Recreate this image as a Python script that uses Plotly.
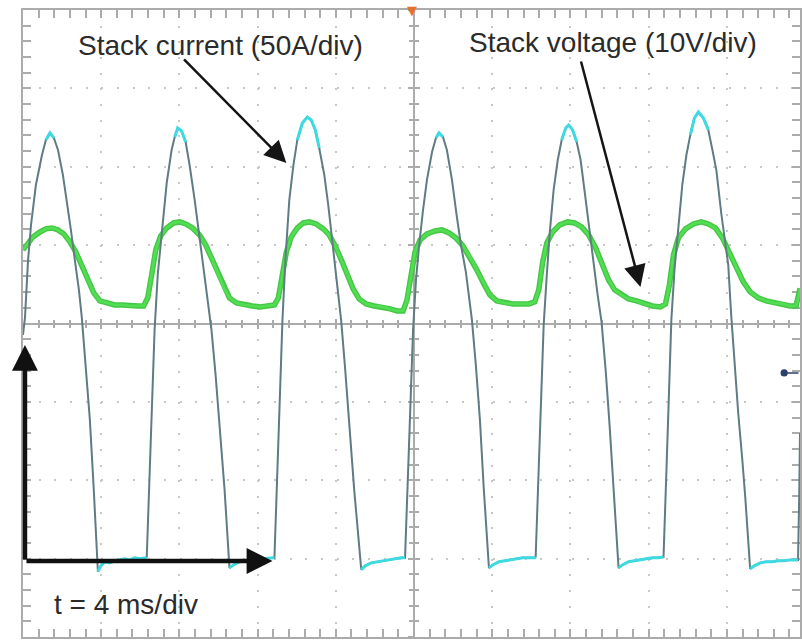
import numpy as np
import plotly.graph_objects as go

# ---- Data ----
# time in ms (0 = left edge of screen, 4 ms/div)
t_current = [0.00, 0.10, 0.26, 0.41, 0.66, 0.97, 1.17, 1.38, 1.58, 1.79, 2.04, 2.24, 2.45, 2.65, 2.86,
             3.01, 3.21, 3.42, 3.62, 3.83, 3.98, 4.18, 4.44, 4.69, 4.95, 5.20, 5.46, 5.71, 5.97, 6.28,
             6.33, 6.48, 6.63, 6.73, 6.89, 7.09, 7.35, 7.60, 7.76, 7.91, 8.11, 8.32, 8.52, 8.78, 8.98,
             9.18, 9.44, 9.64, 9.85, 10.05, 10.31, 10.56, 10.77, 11.07, 11.38, 11.68, 11.99, 12.30, 12.60, 12.80,
             12.86, 13.01, 13.16, 13.27, 13.42, 13.62, 13.83, 14.03, 14.29, 14.54, 14.74, 14.95, 15.15, 15.41, 15.61,
             15.82, 16.02, 16.28, 16.48, 16.68, 16.94, 17.30, 17.50, 17.81, 18.11, 18.42, 18.72, 19.03, 19.34, 19.54,
             19.69, 19.85, 19.95, 20.10, 20.26, 20.46, 20.66, 20.92, 21.12, 21.28, 21.48, 21.68, 21.94, 22.19, 22.40,
             22.65, 22.96, 23.16, 23.37, 23.57, 23.83, 24.03, 24.34, 24.64, 24.95, 25.26, 25.56, 25.87, 26.17,
             26.22, 26.38, 26.53, 26.63, 26.79, 26.94, 27.14, 27.35, 27.55, 27.76, 27.91, 28.11, 28.32, 28.52, 28.78,
             28.98, 29.18, 29.39, 29.59, 29.80, 30.00, 30.20, 30.46, 30.66, 30.97, 31.28, 31.58, 31.89, 32.19, 32.50,
             32.76, 32.91, 33.06, 33.16, 33.32, 33.52, 33.72, 33.93, 34.13, 34.34, 34.54, 34.80, 35.05, 35.26, 35.46,
             35.71, 35.92, 36.07, 36.22, 36.38, 36.58, 36.79, 36.94, 37.19, 37.40, 37.70, 38.01, 38.32, 38.62, 38.93,
             39.23, 39.54, 39.64, 39.70, 39.74]
# stack current in A (50 A/div, zero 3 div below centre)
i_current = [142.7, 153.6, 190.6, 212.9, 238.4, 257.5, 267.1, 271.6, 268.4, 260.7, 244.8, 228.8, 209.7, 190.6, 171.4,
             153.6, 123.6, 88.5, 43.9, -8.2, -4.6, -2.0, -2.7, -1.4, -0.8, -0.1, -0.8, 0.5, -0.1, 0.5,
             1.1, 56.6, 107.7, 145.9, 181.0, 207.8, 239.7, 260.7, 269.0, 274.7, 272.8, 265.8, 251.1, 228.8, 209.7,
             190.6, 165.1, 145.9, 117.2, 85.3, 43.9, -5.9, -4.0, -2.0, -1.4, -0.8, -0.1, -0.1, 0.5, 0.5,
             0.5, 56.6, 114.0, 152.3, 190.6, 228.8, 251.1, 267.1, 277.9, 281.7, 279.8, 273.5, 262.0, 244.8, 225.8,
             203.3, 181.0, 151.0, 120.4, 88.5, 43.9, -7.0, -4.6, -2.7, -2.0, -1.4, -0.8, -0.1, 0.5, 0.5,
             56.6, 110.8, 145.9, 177.8, 200.1, 222.4, 241.6, 259.4, 268.4, 271.6, 269.0, 260.7, 241.6, 218.0, 200.1,
             182.9, 152.3, 123.6, 88.5, 43.9, -5.9, -4.0, -2.0, -1.4, -0.8, -0.1, 0.5, 0.5, 0.5,
             1.1, 56.6, 110.8, 149.1, 181.0, 207.8, 235.2, 254.3, 267.1, 274.7, 276.6, 273.5, 265.8, 254.3, 228.8,
             207.8, 187.4, 168.2, 151.0, 120.4, 85.3, 43.9, -5.9, -4.0, -2.0, -1.4, -0.8, -0.1, 0.5, 0.5,
             1.1, 56.6, 114.0, 152.3, 184.2, 209.7, 238.4, 257.5, 270.3, 281.1, 284.9, 281.1, 273.5, 260.7, 248.0,
             220.5, 200.1, 187.4, 155.5, 126.8, 92.9, 62.9, 39.3, -6.5, -4.6, -2.7, -2.0, -2.0, -1.4, -1.4,
             -0.8, -0.8, -0.8, 40.0, 80.0]

t_voltage = [0.00, 0.20, 0.51, 0.87, 1.17, 1.48, 1.79, 2.09, 2.40, 2.70, 3.01, 3.32, 3.62, 3.93, 4.29,
             4.69, 5.10, 5.51, 5.87, 6.17, 6.38, 6.58, 6.79, 7.04, 7.35, 7.70, 8.01, 8.32, 8.67, 9.03,
             9.34, 9.64, 9.95, 10.26, 10.56, 10.92, 11.33, 11.73, 12.14, 12.50, 12.86, 13.06, 13.27, 13.47, 13.72,
             14.03, 14.34, 14.64, 15.00, 15.36, 15.66, 15.97, 16.28, 16.58, 16.89, 17.19, 17.55, 17.96, 18.37, 18.78,
             19.13, 19.44, 19.64, 19.85, 20.05, 20.31, 20.66, 21.07, 21.43, 21.79, 22.14, 22.50, 22.86, 23.21, 23.57,
             23.88, 24.23, 24.64, 25.05, 25.46, 25.87, 26.17, 26.38, 26.58, 26.79, 27.09, 27.45, 27.86, 28.21, 28.57,
             28.93, 29.29, 29.64, 29.95, 30.26, 30.61, 30.97, 31.38, 31.79, 32.19, 32.60, 32.86, 33.06, 33.27, 33.52,
             33.88, 34.29, 34.69, 35.05, 35.41, 35.77, 36.12, 36.48, 36.84, 37.19, 37.60, 38.01, 38.42, 38.83, 39.23,
             39.54, 39.69, 39.74]
# stack voltage in V (10 V/div, referenced to the centre line)
v_voltage = [9.39, 10.03, 11.05, 11.68, 12.07, 12.19, 11.94, 11.43, 10.41, 9.13, 7.47, 5.56, 3.90, 2.88, 2.63,
             2.37, 2.37, 2.24, 2.24, 2.24, 3.27, 6.20, 9.39, 11.17, 12.19, 12.83, 12.96, 12.70, 12.19, 11.30,
             10.03, 8.37, 6.58, 4.67, 3.27, 2.63, 2.37, 2.24, 2.12, 2.24, 2.37, 3.27, 6.20, 9.13, 11.05,
             12.19, 12.83, 12.96, 12.70, 12.07, 11.30, 9.90, 8.11, 6.20, 4.41, 3.14, 2.50, 2.24, 2.12, 1.86,
             1.61, 1.61, 3.01, 6.20, 9.13, 10.66, 11.43, 11.81, 11.94, 11.56, 10.92, 9.90, 8.49, 6.84, 5.05,
             3.65, 2.88, 2.63, 2.50, 2.50, 2.50, 2.76, 4.29, 7.86, 10.28, 11.68, 12.58, 12.96, 12.83, 12.32,
             11.30, 9.64, 7.47, 5.56, 4.29, 3.65, 3.14, 2.88, 2.50, 2.24, 2.12, 2.50, 4.92, 8.75, 10.92,
             12.07, 12.70, 12.96, 12.70, 12.19, 10.92, 9.13, 7.09, 5.31, 4.03, 3.27, 2.88, 2.63, 2.50, 2.24,
             2.24, 3.65, 4.5]

# screen scales
T_END = 39.74            # visible time span (ms), screen is cropped slightly at the right
MS_PER_DIV = 4
A_RANGE = [-50, 350]     # 50 A/div
V_RANGE = [-40, 40]      # 10 V/div

labels = {
    "current": "Stack current (50A/div)",
    "voltage": "Stack voltage (10V/div)",
    "time": "t = 4 ms/div",
}

GRID = "#c8c8c8"
FRAME = "#ababab"
FONT = "Liberation Sans, Arial, sans-serif"
TXT = "#2b2b2b"

tc = np.array(t_current)
ic = np.array(i_current, dtype=float)
ic_hi = np.where((ic >= 262) | (ic <= 2.0), ic, np.nan)

fig = go.Figure()

# dummy traces to activate the centre-line axes
for xa, ya in [("x2", "y"), ("x3", "y"), ("x", "y3"), ("x", "y4")]:
    fig.add_trace(go.Scatter(x=[None], y=[None], xaxis=xa, yaxis=ya,
                             showlegend=False, hoverinfo="skip"))

# voltage (green, thick and noisy)
fig.add_trace(go.Scatter(x=t_voltage, y=v_voltage, mode="lines",
                         line=dict(color="#45c645", width=5.5), hoverinfo="skip"))
fig.add_trace(go.Scatter(x=t_voltage, y=v_voltage, mode="lines",
                         line=dict(color="#52de52", width=2.8), hoverinfo="skip"))

# current (grey-teal slopes, cyan at the flats and peaks)
fig.add_trace(go.Scatter(x=tc, y=ic, mode="lines", yaxis="y2",
                         line=dict(color="#5e7c82", width=2), hoverinfo="skip"))
fig.add_trace(go.Scatter(x=tc, y=ic_hi, mode="lines", yaxis="y2",
                         line=dict(color="#3fd9e2", width=3), hoverinfo="skip",
                         connectgaps=False))

tick_common = dict(tickcolor=FRAME, tickwidth=1.5, showticklabels=False, zeroline=False,
                   layer="below traces", fixedrange=True)

xaxis = dict(range=[0, T_END], tick0=0, dtick=MS_PER_DIV, showgrid=True, gridcolor=GRID, gridwidth=2,
             griddash="2px,13.68px", showline=True, mirror="allticks", linecolor=FRAME, linewidth=2,
             ticks="inside", ticklen=8,
             minor=dict(dtick=MS_PER_DIV / 5, ticks="inside", ticklen=5, tickwidth=1.5,
                        tickcolor=FRAME, showgrid=False),
             **tick_common)
yaxis = dict(range=V_RANGE, tick0=0, dtick=10, showgrid=True, gridcolor=GRID, gridwidth=2,
             griddash="2px,13.68px", showline=True, mirror="allticks", linecolor=FRAME, linewidth=2,
             ticks="inside", ticklen=8,
             minor=dict(dtick=2, ticks="inside", ticklen=5, tickwidth=1.5, tickcolor=FRAME, showgrid=False),
             **tick_common)

def center_x(tickdir, line):
    return dict(overlaying="x", anchor="free", position=0.5, range=[0, T_END], tick0=0,
                dtick=MS_PER_DIV, showgrid=False, showline=line, linecolor=FRAME, linewidth=1.5,
                ticks=tickdir, ticklen=5, side="bottom",
                minor=dict(dtick=MS_PER_DIV / 5, ticks=tickdir, ticklen=4, tickwidth=1.5,
                           tickcolor=FRAME, showgrid=False),
                **tick_common)

def center_y(tickdir, line):
    return dict(overlaying="y", anchor="free", position=5 * MS_PER_DIV / T_END, range=V_RANGE,
                tick0=0, dtick=10, showgrid=False, showline=line, linecolor=FRAME, linewidth=1.5,
                ticks=tickdir, ticklen=5, side="left",
                minor=dict(dtick=2, ticks=tickdir, ticklen=4, tickwidth=1.5, tickcolor=FRAME,
                           showgrid=False),
                **tick_common)

annotations = [
    dict(x=10.1, y=35.5, xref="x", yref="y", text=labels["current"], showarrow=False,
         font=dict(family=FONT, size=28, color=TXT)),
    dict(x=30.15, y=35.8, xref="x", yref="y", text=labels["voltage"], showarrow=False,
         font=dict(family=FONT, size=28, color=TXT)),
    dict(x=5.26, y=-35.9, xref="x", yref="y", text=labels["time"], showarrow=False,
         font=dict(family=FONT, size=28, color=TXT)),
    # pointer arrows
    dict(x=13.47, y=20.48, ax=8.16, ay=33.88, xref="x", yref="y", axref="x", ayref="y", text="",
         showarrow=True, arrowhead=2, arrowsize=1.75, arrowwidth=2.5, arrowcolor="#151515", standoff=0),
    dict(x=31.58, y=4.67, ax=28.52, ay=33.62, xref="x", yref="y", axref="x", ayref="y", text="",
         showarrow=True, arrowhead=2, arrowsize=1.75, arrowwidth=2.5, arrowcolor="#151515", standoff=0),
    # scale arrows
    dict(x=0.10, y=-2.73, ax=0.10, ay=-30.31, xref="x", yref="y", axref="x", ayref="y", text="",
         showarrow=True, arrowhead=2, arrowsize=1.15, arrowwidth=4.5, arrowcolor="#111111", standoff=0),
    dict(x=12.76, y=-30.31, ax=0.10, ay=-30.31, xref="x", yref="y", axref="x", ayref="y", text="",
         showarrow=True, arrowhead=2, arrowsize=1.15, arrowwidth=4.5, arrowcolor="#111111", standoff=0),
    # trigger position marker
    dict(x=19.9, y=1.0, xref="x", yref="paper", text="▼", showarrow=False, yanchor="middle",
         font=dict(family="DejaVu Sans", size=13, color="#e8702f")),
    # trigger level marker
    dict(x=38.93, y=-6.3, ax=T_END, ay=-6.3, xref="x", yref="y", axref="x", ayref="y", text="",
         showarrow=True, arrowhead=6, arrowsize=1.2, arrowwidth=1.5, arrowcolor="#2a3f6a", standoff=0),
]

fig.update_layout(
    width=802, height=642,
    margin=dict(l=23, r=0, t=10, b=5),
    paper_bgcolor="white", plot_bgcolor="white",
    showlegend=False,
    xaxis=xaxis, yaxis=yaxis,
    xaxis2=center_x("outside", True), xaxis3=center_x("inside", False),
    yaxis2=dict(overlaying="y", range=A_RANGE, visible=False, fixedrange=True),
    yaxis3=center_y("outside", True), yaxis4=center_y("inside", False),
    annotations=annotations,
    hovermode=False,
)

fig.write_html("out.html")
